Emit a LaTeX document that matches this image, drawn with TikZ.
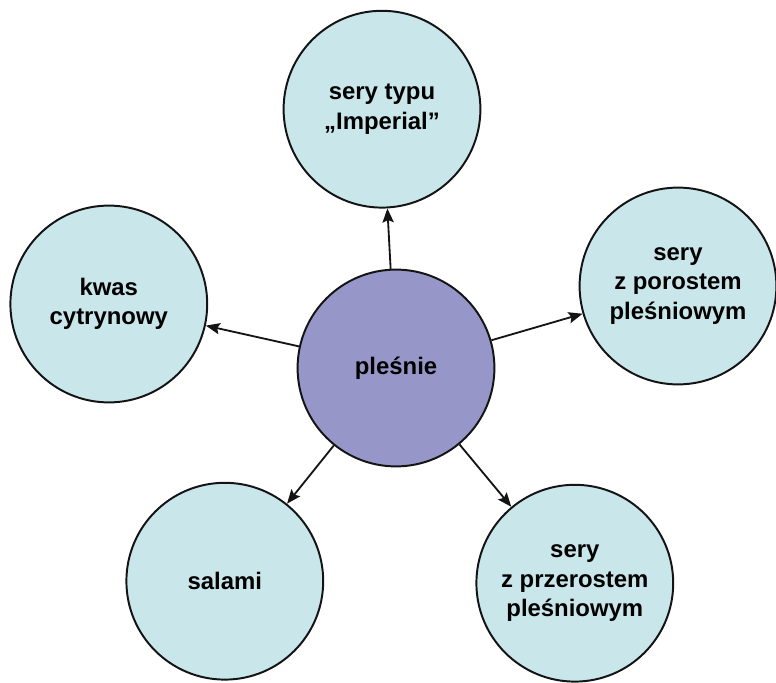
\documentclass[tikz,border=0pt]{standalone}
\usepackage{fontspec}
\setmainfont{Liberation Sans}
\usepackage{xcolor}
\usepackage{tikz}
\usetikzlibrary{arrows.meta, positioning, calc}
\definecolor{leafcyan}{RGB}{201,230,235}
\definecolor{hubviolet}{RGB}{151,150,201}
\definecolor{rimdark}{RGB}{20,20,20}

\begin{document}
\begin{tikzpicture}[font=\bfseries\fontsize{17}{21}\selectfont, >={Stealth[length=3.5mm,width=2.8mm,inset=0.6mm]},
    blob/.style={circle, draw=rimdark, line width=1.4pt, minimum size=4.92cm, inner sep=0pt, align=center},
    leaf/.style={blob, fill=leafcyan},
    hub/.style={blob, fill=hubviolet},
    link/.style={->, line width=1.3pt, rimdark}]
  \useasboundingbox (0,0) rectangle (19.4,17.05);
  % ---- centre: moulds ----
  \node[hub] (plesnie) at (9.90,7.85) {pleśnie};
  % ---- surrounding products ----
  \node[leaf] (imperial) at (9.55,14.32) {sery typu\\„Imperial”};
  \node[leaf] (kwas)     at (2.72,9.45)  {kwas\\cytrynowy};
  \node[leaf] (porost)   at (16.95,9.90) {sery\\z porostem\\pleśniowym};
  \node[leaf] (salami)   at (5.62,2.52)  {salami};
  \node[leaf] (przerost) at (14.37,2.47) {sery\\z przerostem\\pleśniowym};
  % arrows out of the hub
  \foreach \t in {imperial,kwas,porost,salami,przerost}
    \draw[link] (plesnie) -- (\t);
\end{tikzpicture}
\end{document}
